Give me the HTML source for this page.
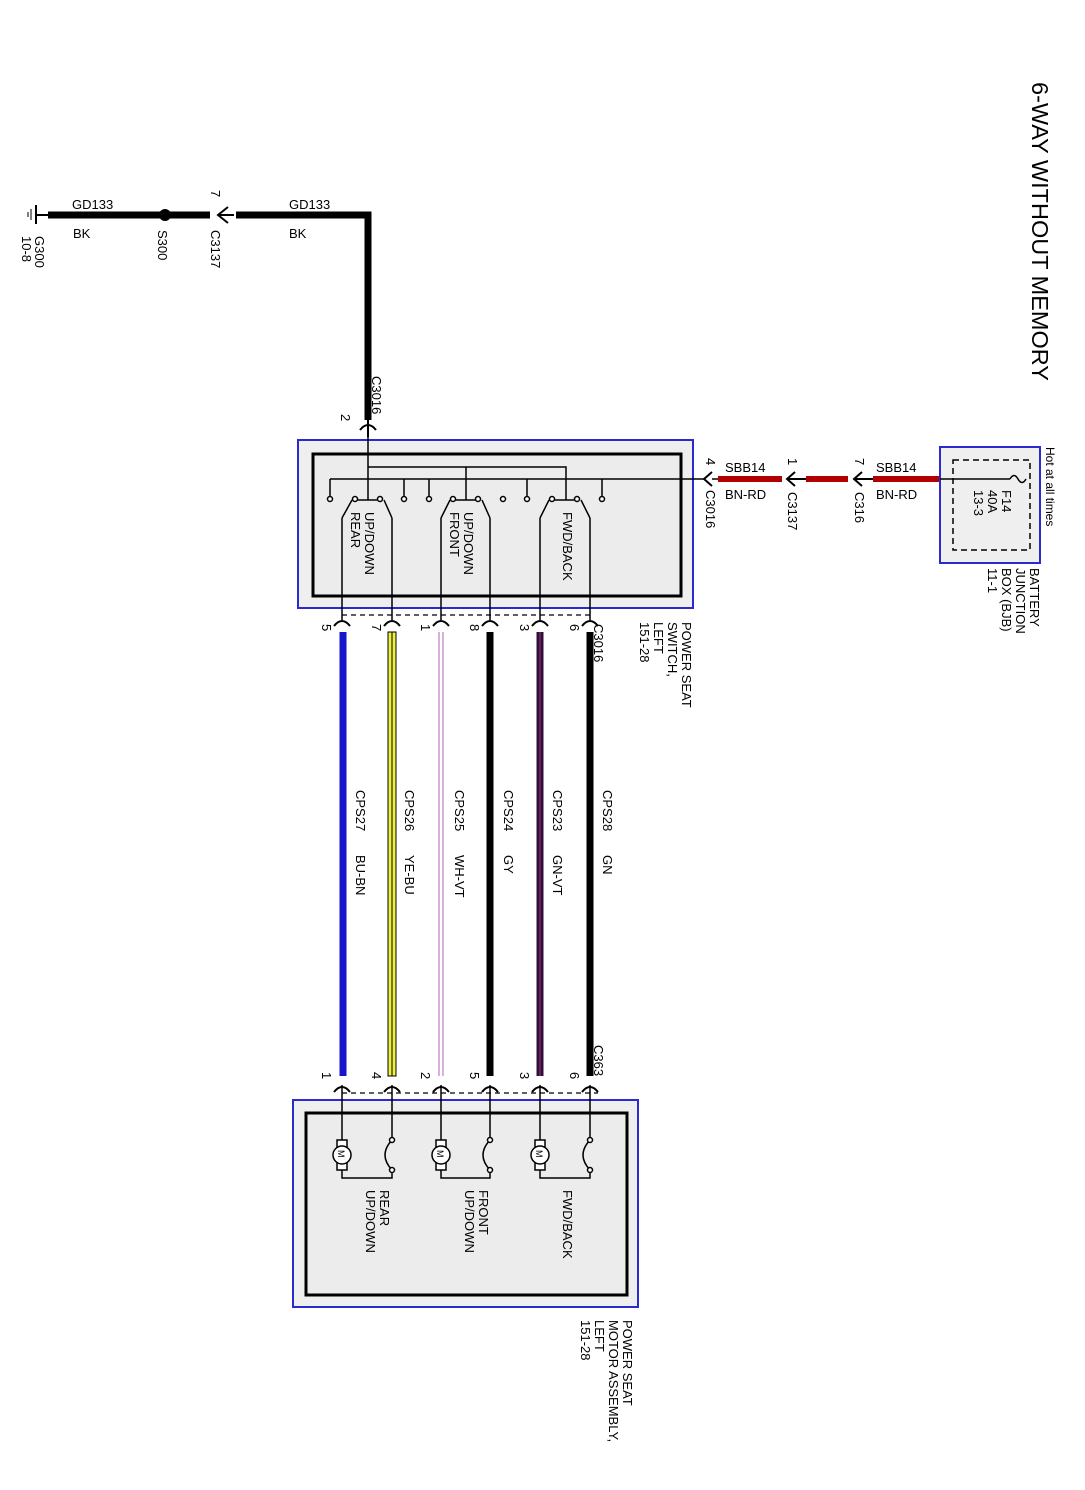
<!DOCTYPE html>
<html><head><meta charset="utf-8"><style>
html,body{margin:0;padding:0;background:#fff;}
svg{display:block;font-family:"Liberation Sans",Arial,sans-serif;}
text{fill:#000;font-size:13px;}
</style></head><body>
<svg width="1085" height="1490" viewBox="0 0 1085 1490" xmlns="http://www.w3.org/2000/svg">
<text transform="translate(1032,82) rotate(90)" style="font-size:23.5px">6-WAY WITHOUT MEMORY</text>

<line x1="36" y1="205" x2="36" y2="224" stroke="#000" stroke-width="2"/>
<line x1="31" y1="209" x2="31" y2="220" stroke="#000" stroke-width="1"/>
<line x1="28" y1="212" x2="28" y2="217" stroke="#000" stroke-width="1"/>
<line x1="36" y1="215" x2="48" y2="215" stroke="#000" stroke-width="2"/>
<line x1="48" y1="215" x2="210" y2="215" stroke="#000" stroke-width="7"/>
<circle cx="165" cy="215" r="6" fill="#000"/>
<path d="M228 207 L218 215 L228 223 M218 215 L234 215" stroke="#000" stroke-width="2" fill="none"/>
<polyline points="236,215 368,215 368,420" stroke="#000" stroke-width="7" fill="none"/>
<text x="72" y="209">GD133</text><text x="73" y="238">BK</text>
<text x="289" y="209">GD133</text><text x="289" y="238">BK</text>
<text transform="translate(35,236) rotate(90)">G300</text>
<text transform="translate(22,236) rotate(90)">10-8</text>
<text transform="translate(158,230) rotate(90)">S300</text>
<text transform="translate(211,190) rotate(90)">7</text>
<text transform="translate(211,230) rotate(90)">C3137</text>
<text transform="translate(372,376) rotate(90)">C3016</text>
<text transform="translate(341,414) rotate(90)">2</text>
<path d="M360 430 Q368 420 376 430 M368 420 L368 437" stroke="#000" stroke-width="2" fill="none"/>

<rect x="298" y="440" width="395" height="168" fill="#efefef" stroke="#2a2ad0" stroke-width="2"/>
<rect x="313" y="454" width="368" height="142" fill="#ececec" stroke="#000" stroke-width="3"/>
<g stroke="#000" stroke-width="1.5" fill="none">
<line x1="368" y1="437" x2="368" y2="500"/>
<polyline points="368,467 566,467 566,500"/>
<line x1="466" y1="467" x2="466" y2="500"/>
<line x1="330" y1="479" x2="705" y2="479"/>
<line x1="330" y1="479" x2="330" y2="497"/>
<line x1="404" y1="479" x2="404" y2="497"/>
<line x1="429" y1="479" x2="429" y2="497"/>
<line x1="527" y1="479" x2="527" y2="497"/>
<line x1="602" y1="479" x2="602" y2="497"/>
<line x1="355" y1="500" x2="380" y2="500"/>
<line x1="453" y1="500" x2="478" y2="500"/>
<line x1="552" y1="500" x2="577" y2="500"/>
<line x1="352" y1="500" x2="342" y2="518"/><line x1="384" y1="500" x2="392" y2="518"/>
<line x1="450" y1="500" x2="441" y2="518"/><line x1="482" y1="500" x2="490" y2="518"/>
<line x1="549" y1="500" x2="540" y2="518"/><line x1="581" y1="500" x2="590" y2="518"/>
</g>
<g fill="#fff" stroke="#000" stroke-width="1.5">
<circle cx="330" cy="499" r="2.5"/><circle cx="355" cy="499" r="2.5"/><circle cx="380" cy="499" r="2.5"/>
<circle cx="404" cy="499" r="2.5"/><circle cx="429" cy="499" r="2.5"/><circle cx="453" cy="499" r="2.5"/>
<circle cx="478" cy="499" r="2.5"/><circle cx="503" cy="499" r="2.5"/><circle cx="527" cy="499" r="2.5"/>
<circle cx="552" cy="499" r="2.5"/><circle cx="577" cy="499" r="2.5"/><circle cx="602" cy="499" r="2.5"/>
</g>
<text transform="translate(365,512) rotate(90)">UP/DOWN</text>
<text transform="translate(351,512) rotate(90)">REAR</text>
<text transform="translate(464,512) rotate(90)">UP/DOWN</text>
<text transform="translate(450,512) rotate(90)">FRONT</text>
<text transform="translate(563,512) rotate(90)">FWD/BACK</text>

<path d="M712 472 L704 479 L712 486" stroke="#000" stroke-width="2" fill="none"/>
<line x1="712" y1="479" x2="720" y2="479" stroke="#000" stroke-width="1.5"/>
<text transform="translate(706,458) rotate(90)">4</text>
<text transform="translate(706,490) rotate(90)">C3016</text>
<line x1="718" y1="479" x2="782" y2="479" stroke="#b00000" stroke-width="6"/>
<path d="M795 472 L787 479 L795 486 M787 479 L806 479" stroke="#000" stroke-width="2" fill="none"/>
<line x1="806" y1="479" x2="848" y2="479" stroke="#b00000" stroke-width="6"/>
<path d="M862 472 L854 479 L862 486 M854 479 L873 479" stroke="#000" stroke-width="2" fill="none"/>
<line x1="873" y1="479" x2="940" y2="479" stroke="#b00000" stroke-width="6"/>
<text x="725" y="472">SBB14</text><text x="725" y="499">BN-RD</text>
<text x="876" y="472">SBB14</text><text x="876" y="499">BN-RD</text>
<text transform="translate(788,458) rotate(90)">1</text>
<text transform="translate(788,492) rotate(90)">C3137</text>
<text transform="translate(855,458) rotate(90)">7</text>
<text transform="translate(855,492) rotate(90)">C316</text>

<rect x="940" y="447" width="100" height="116" fill="#efefef" stroke="#2a2ad0" stroke-width="2"/>
<rect x="953" y="460" width="77" height="90" fill="none" stroke="#000" stroke-width="1.5" stroke-dasharray="6,4"/>
<line x1="940" y1="479" x2="1010" y2="479" stroke="#000" stroke-width="1.5"/>
<path d="M1010 479 Q1014 472 1018 479 Q1022 486 1026 479" stroke="#000" stroke-width="1.5" fill="none"/>
<text transform="translate(1002,490) rotate(90)">F14</text>
<text transform="translate(988,490) rotate(90)">40A</text>
<text transform="translate(974,490) rotate(90)">13-3</text>
<text transform="translate(1046,447) rotate(90)" style="font-size:12px">Hot at all times</text>
<text transform="translate(1030,568) rotate(90)">BATTERY</text>
<text transform="translate(1016,568) rotate(90)">JUNCTION</text>
<text transform="translate(1002,568) rotate(90)">BOX (BJB)</text>
<text transform="translate(988,568) rotate(90)">11-1</text>

<g stroke="#000" stroke-width="1.5">
<line x1="342" y1="518" x2="342" y2="620"/><line x1="392" y1="518" x2="392" y2="620"/>
<line x1="441" y1="518" x2="441" y2="620"/><line x1="490" y1="518" x2="490" y2="620"/>
<line x1="540" y1="518" x2="540" y2="620"/><line x1="590" y1="518" x2="590" y2="620"/>
</g>
<line x1="342" y1="615" x2="590" y2="615" stroke="#000" stroke-width="1.2" stroke-dasharray="5,4"/>
<g stroke="#000" stroke-width="2" fill="none">
<path d="M334 626 Q342 616 350 626"/><path d="M384 626 Q392 616 400 626"/>
<path d="M433 626 Q441 616 449 626"/><path d="M482 626 Q490 616 498 626"/>
<path d="M532 626 Q540 616 548 626"/><path d="M582 626 Q590 616 598 626"/>
</g>
<text transform="translate(322,624) rotate(90)">5</text>
<text transform="translate(372,624) rotate(90)">7</text>
<text transform="translate(421,624) rotate(90)">1</text>
<text transform="translate(470,624) rotate(90)">8</text>
<text transform="translate(520,624) rotate(90)">3</text>
<text transform="translate(570,624) rotate(90)">6</text>
<text transform="translate(594,624) rotate(90)">C3016</text>
<text transform="translate(682,622) rotate(90)">POWER SEAT</text>
<text transform="translate(668,622) rotate(90)">SWITCH,</text>
<text transform="translate(654,622) rotate(90)">LEFT</text>
<text transform="translate(640,622) rotate(90)">151-28</text>

<line x1="343" y1="632" x2="343" y2="1076" stroke="#1515cc" stroke-width="7"/>
<rect x="388" y="632" width="8" height="444" fill="#f0f040" stroke="#000" stroke-width="1"/>
<line x1="392" y1="632" x2="392" y2="1076" stroke="#000" stroke-width="1"/>
<line x1="439" y1="632" x2="439" y2="1076" stroke="#b060b0" stroke-width="1"/>
<line x1="443" y1="632" x2="443" y2="1076" stroke="#b060b0" stroke-width="1"/>
<line x1="490" y1="632" x2="490" y2="1076" stroke="#000" stroke-width="7"/>
<line x1="540" y1="632" x2="540" y2="1076" stroke="#301030" stroke-width="7"/>
<line x1="540" y1="632" x2="540" y2="1076" stroke="#802080" stroke-width="1.5"/>
<line x1="590" y1="632" x2="590" y2="1076" stroke="#000" stroke-width="7"/>
<text transform="translate(356,790) rotate(90)">CPS27</text><text transform="translate(356,855) rotate(90)">BU-BN</text>
<text transform="translate(405,790) rotate(90)">CPS26</text><text transform="translate(405,855) rotate(90)">YE-BU</text>
<text transform="translate(455,790) rotate(90)">CPS25</text><text transform="translate(455,855) rotate(90)">WH-VT</text>
<text transform="translate(504,790) rotate(90)">CPS24</text><text transform="translate(504,855) rotate(90)">GY</text>
<text transform="translate(553,790) rotate(90)">CPS23</text><text transform="translate(553,855) rotate(90)">GN-VT</text>
<text transform="translate(603,790) rotate(90)">CPS28</text><text transform="translate(603,855) rotate(90)">GN</text>

<line x1="342" y1="1093" x2="598" y2="1093" stroke="#000" stroke-width="1.2" stroke-dasharray="5,4"/>
<g stroke="#000" stroke-width="2" fill="none">
<path d="M334 1092 Q342 1082 350 1092"/><path d="M384 1092 Q392 1082 400 1092"/>
<path d="M433 1092 Q441 1082 449 1092"/><path d="M482 1092 Q490 1082 498 1092"/>
<path d="M532 1092 Q540 1082 548 1092"/><path d="M582 1092 Q590 1082 598 1092"/>
</g>
<text transform="translate(322,1072) rotate(90)">1</text>
<text transform="translate(372,1072) rotate(90)">4</text>
<text transform="translate(421,1072) rotate(90)">2</text>
<text transform="translate(470,1072) rotate(90)">5</text>
<text transform="translate(520,1072) rotate(90)">3</text>
<text transform="translate(570,1072) rotate(90)">6</text>
<text transform="translate(594,1045) rotate(90)">C363</text>

<rect x="293" y="1100" width="345" height="207" fill="#efefef" stroke="#2a2ad0" stroke-width="2"/>
<rect x="306" y="1113" width="321" height="182" fill="#ececec" stroke="#000" stroke-width="3"/>
<g stroke="#000" stroke-width="1.5" fill="none">
<line x1="342" y1="1085" x2="342" y2="1140"/><line x1="392" y1="1085" x2="392" y2="1138"/>
<line x1="441" y1="1085" x2="441" y2="1140"/><line x1="490" y1="1085" x2="490" y2="1138"/>
<line x1="540" y1="1085" x2="540" y2="1140"/><line x1="590" y1="1085" x2="590" y2="1138"/>
<polyline points="342,1170 342,1178 392,1178 392,1172"/>
<polyline points="441,1170 441,1178 490,1178 490,1172"/>
<polyline points="540,1170 540,1178 590,1178 590,1172"/>
<path d="M392 1140 Q378 1155 392 1170"/><path d="M490 1140 Q476 1155 490 1170"/><path d="M590 1140 Q576 1155 590 1170"/>
</g>
<g stroke="#000" stroke-width="1.5" fill="#fff">
<circle cx="392" cy="1140" r="2.5"/><circle cx="392" cy="1170" r="2.5"/>
<circle cx="490" cy="1140" r="2.5"/><circle cx="490" cy="1170" r="2.5"/>
<circle cx="590" cy="1140" r="2.5"/><circle cx="590" cy="1170" r="2.5"/>
<rect x="337" y="1140" width="10" height="30"/><circle cx="342" cy="1155" r="9"/>
<rect x="436" y="1140" width="10" height="30"/><circle cx="441" cy="1155" r="9"/>
<rect x="535" y="1140" width="10" height="30"/><circle cx="540" cy="1155" r="9"/>
</g>
<text transform="translate(338,1150) rotate(90)" style="font-size:9px">M</text>
<text transform="translate(437,1150) rotate(90)" style="font-size:9px">M</text>
<text transform="translate(536,1150) rotate(90)" style="font-size:9px">M</text>
<text transform="translate(380,1190) rotate(90)">REAR</text>
<text transform="translate(366,1190) rotate(90)">UP/DOWN</text>
<text transform="translate(479,1190) rotate(90)">FRONT</text>
<text transform="translate(465,1190) rotate(90)">UP/DOWN</text>
<text transform="translate(563,1190) rotate(90)">FWD/BACK</text>
<text transform="translate(623,1320) rotate(90)">POWER SEAT</text>
<text transform="translate(609,1320) rotate(90)">MOTOR ASSEMBLY,</text>
<text transform="translate(595,1320) rotate(90)">LEFT</text>
<text transform="translate(581,1320) rotate(90)">151-28</text>
</svg>
</body></html>
